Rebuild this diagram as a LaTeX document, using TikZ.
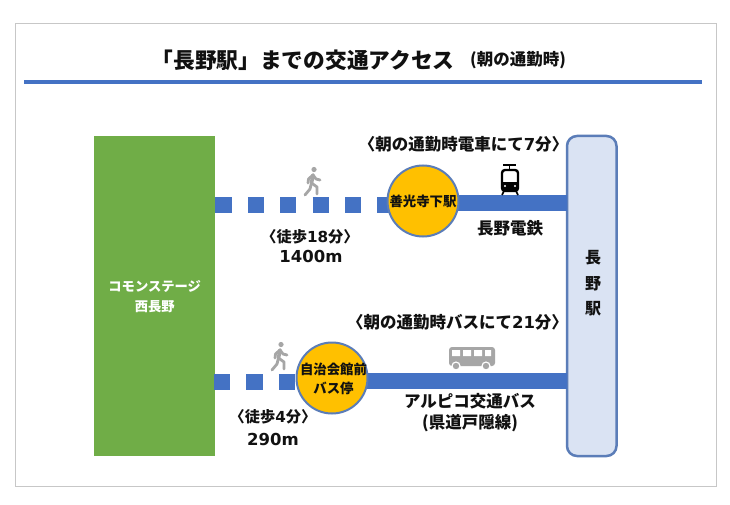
\documentclass[tikz,border=0pt]{standalone}
\usepackage{fontspec}
\setmainfont{Noto Sans CJK JP}
\newfontfamily\latinbold{DejaVu Sans}[BoldFont={DejaVu Sans Bold}]
\newcommand{\nm}[1]{{\latinbold\bfseries #1}}
\definecolor{barblue}{HTML}{4472C4}
\definecolor{leaf}{HTML}{70AD47}
\definecolor{amber}{HTML}{FFC000}
\definecolor{pale}{HTML}{DAE3F3}
\definecolor{rimblue}{HTML}{5B7DB8}
\definecolor{icongrey}{HTML}{A6A6A6}
\definecolor{txt}{HTML}{111111}
\tikzset{
 x=1pt,y=-1pt,
 lab/.style={font=\fontsize{16.5}{18}\selectfont\bfseries,text=txt,inner sep=0pt,align=center},
 labsm/.style={font=\fontsize{15.2}{18}\selectfont\bfseries,text=txt,inner sep=0pt,align=center},
 big/.style={font=\fontsize{16.5}{18}\selectfont\bfseries,text=txt,inner sep=0pt,align=center},
 stn/.style={circle,draw=rimblue,line width=2pt,fill=amber,minimum size=71pt,inner sep=0pt},
 stntxt/.style={font=\fontsize{13.4}{18.5}\selectfont\bfseries,text=txt,inner sep=0pt,align=center},
 walkbar/.style={draw=barblue,line width=16pt,dash pattern=on 16.2pt off 16.2pt},
 solidbar/.style={draw=barblue,line width=16pt},
 walker/.style={draw=icongrey,line width=2.8pt,line cap=round,line join=round},
}
\begin{document}
\begin{tikzpicture}
\useasboundingbox (0,0) rectangle (730,505);
\fill[white] (0,0) rectangle (730,505);
\draw[draw=black!22,line width=1pt] (15,24) rectangle (716,486);
% title
\node[inner sep=0pt,anchor=west,text=txt] (ttl) at (151.5,60) {\fontsize{21.7}{24}\selectfont\bfseries 「長野駅」までの交通アクセス};
\node[inner sep=0pt,anchor=west,text=txt] (ttlsub) at (470,60) {\fontsize{16.5}{18}\selectfont\bfseries (朝の通勤時)};
\fill[barblue] (24,80) rectangle (702,84);
% end blocks
\node[draw=none,fill=leaf,minimum width=121pt,minimum height=320pt,inner sep=0pt,anchor=north west,text=white,align=center,font=\fontsize{13.3}{20}\selectfont\bfseries] (home) at (94,136) {コモンステージ\\西長野};
\node[draw=rimblue,line width=2.5pt,outer sep=0pt,fill=pale,rounded corners=10pt,minimum width=49.5pt,minimum height=320pt,inner sep=0pt,anchor=north west] (nagano) at (567,136) {};
\node[inner sep=0pt,align=center,text=txt,font=\fontsize{16}{25.5}\selectfont\bfseries] (naganot) at (593,283.5) {長\\野\\駅};
% anchors on the lines
\coordinate (t1) at (home.east |- 0,204.5);
\coordinate (t2) at (423,204.5);
\coordinate (t4) at (423,203);
\coordinate (t3) at (nagano.west |- 0,203);
\coordinate (b1) at (214,382);
\coordinate (b2) at (332,382);
\coordinate (b4) at (332,381);
\coordinate (b3) at (nagano.west |- 0,381);
\draw[walkbar] (t1) -- (t2);
\draw[solidbar] (t4) -- (t3);
\draw[walkbar] (b1) -- (b2);
\draw[solidbar] (b4) -- (b3);
% stations
\node[stn] (zenkoji) at (423,201) {};
\node[stntxt] (zenkojit) at (423,201) {善光寺下駅};
\node[stn] (jichi) at (332,378) {};
\node[stntxt] (jichit) at (333.5,379) {自治会館前\\バス停};
% labels
\node[lab] (l1) at (463.5,144) {〈朝の通勤時電車にて\nm{7}分〉};
\node[big] (l2) at (510,228) {長野電鉄};
\node[labsm] (l3) at (310,237) {〈徒歩\nm{18}分〉};
\node[big] (l4) at (311,256) {\nm{1400m}};
\node[lab] (l5) at (457.5,322) {〈朝の通勤時バスにて\nm{21}分〉};
\node[big] (l6) at (470,401) {アルピコ交通バス};
\node[big] (l7) at (470,423) {(県道戸隠線)};
\node[labsm] (l8) at (273,417) {〈徒歩\nm{4}分〉};
\node[big] (l9) at (273,439) {\nm{290m}};
% walker 1
\begin{scope}[shift={(313,182)}]
 \fill[icongrey] (1,-12.5) circle (2.6);
 \draw[walker,line width=3.6pt] (0,-7) -- (-1.5,1);
 \draw[walker] (0,-7) -- (-4.5,-3) -- (-5,1);
 \draw[walker] (0,-7) -- (3,-3) -- (7,-2);
 \draw[walker] (-1.5,1) -- (4,5) -- (4,12);
 \draw[walker] (-1.5,1) -- (-3,7) -- (-8,13);
\end{scope}
% walker 2
\begin{scope}[shift={(280,357)}]
 \fill[icongrey] (1,-12.5) circle (2.6);
 \draw[walker,line width=3.6pt] (0,-7) -- (-1.5,1);
 \draw[walker] (0,-7) -- (-4.5,-3) -- (-5,1);
 \draw[walker] (0,-7) -- (3,-3) -- (7,-2);
 \draw[walker] (-1.5,1) -- (4,5) -- (4,12);
 \draw[walker] (-1.5,1) -- (-3,7) -- (-8,13);
\end{scope}
% train
\draw[black,line width=1.6pt] (503,165) -- (516,165) (509.5,165) -- (509.5,170);
\draw[black,line width=2.4pt,rounded corners=3pt,fill=white] (502,170) rectangle (518,191);
\fill[black] (502,182) rectangle (518,191);
\fill[white] (505,186) circle (1.2) (515,186) circle (1.2);
\draw[black,line width=1.6pt] (504,191) -- (502,195) (516,191) -- (518,195);
% bus
\fill[icongrey,rounded corners=3pt] (449,347) rectangle (495,366);
\fill[white] (452,350) rectangle (460,356) (463,350) rectangle (471,356) (474,350) rectangle (482,356) (485,350) rectangle (491,356);
\fill[white] (456,366) circle (4.6) (486,366) circle (4.6);
\fill[icongrey] (456,366) circle (3.2) (486,366) circle (3.2);
\end{tikzpicture}
\end{document}
